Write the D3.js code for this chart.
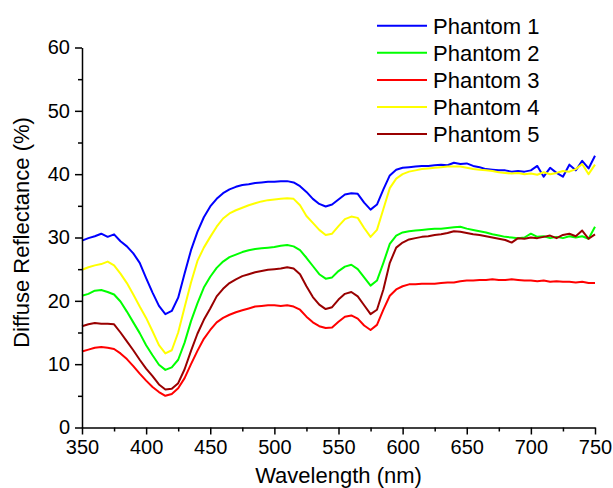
<!DOCTYPE html>
<html>
<head>
<meta charset="utf-8">
<script src="https://cdn.jsdelivr.net/npm/d3@7"></script>
<style>
  html, body { margin: 0; padding: 0; background: #fff; }
  svg { display: block; font-family: "Liberation Sans", Arial, sans-serif; }
</style>
</head>
<body>
<svg id="chart" width="613" height="488"></svg>
<script>
// Wavelength grid (nm), 5 nm steps
const wavelengths = d3.range(350, 751, 5);

// Diffuse reflectance (%) for each tissue phantom
const phantom1 = [29.5,29.9,30.2,30.6,30.1,30.5,29.4,28.6,27.5,26.0,23.6,21.3,19.2,17.9,18.4,20.5,24.3,28.0,30.9,33.2,34.9,36.1,37.0,37.6,38.0,38.3,38.4,38.6,38.7,38.8,38.8,38.9,38.9,38.7,38.1,37.2,36.1,35.3,34.9,35.2,36.0,36.8,37.0,36.9,35.5,34.4,35.2,37.6,39.8,40.7,41.0,41.1,41.2,41.3,41.3,41.4,41.5,41.4,41.8,41.6,41.7,41.3,41.1,40.8,40.7,40.6,40.6,40.4,40.5,40.4,40.6,41.3,39.6,41.0,40.2,39.6,41.5,40.6,42.1,40.9,42.9];
const phantom2 = [20.8,21.1,21.6,21.7,21.4,21.0,19.9,18.3,16.6,14.9,13.0,11.4,9.9,9.1,9.5,10.7,13.4,16.8,19.6,22.1,23.8,25.2,26.2,26.9,27.3,27.7,28.0,28.2,28.3,28.4,28.5,28.7,28.8,28.6,28.0,26.8,25.5,24.2,23.5,23.7,24.7,25.4,25.7,25.0,23.7,22.4,23.2,26.0,29.0,30.3,30.8,31.0,31.1,31.2,31.3,31.4,31.4,31.5,31.6,31.7,31.4,31.2,31.0,30.8,30.5,30.3,30.1,30.0,29.9,30.0,30.6,30.1,30.2,29.9,30.1,29.9,30.2,30.0,30.2,29.8,31.7];
const phantom3 = [12.0,12.3,12.6,12.7,12.6,12.4,11.7,10.8,9.7,8.5,7.4,6.4,5.6,5.0,5.3,6.2,7.8,10.0,12.1,14.0,15.4,16.6,17.3,17.8,18.2,18.5,18.8,19.1,19.2,19.3,19.3,19.2,19.3,19.1,18.6,17.5,16.6,16.0,15.7,15.8,16.7,17.5,17.7,17.2,16.1,15.4,16.2,18.6,20.8,21.8,22.3,22.6,22.6,22.7,22.7,22.7,22.8,22.9,22.9,23.1,23.2,23.2,23.3,23.3,23.4,23.3,23.3,23.4,23.3,23.2,23.2,23.1,23.2,23.0,23.1,23.0,23.0,22.9,23.0,22.8,22.8];
const phantom4 = [24.9,25.3,25.6,25.8,26.2,25.6,24.3,22.8,21.0,19.1,17.3,15.2,13.0,11.7,12.2,15.0,19.0,22.9,26.3,28.4,30.1,31.7,33.0,33.8,34.3,34.7,35.1,35.4,35.7,35.9,36.0,36.1,36.2,36.1,35.1,33.4,32.3,31.2,30.4,30.6,31.8,32.9,33.3,33.1,31.5,30.1,31.2,34.5,37.8,39.3,40.0,40.4,40.6,40.8,40.9,41.0,41.1,41.2,41.2,41.2,41.0,40.8,40.7,40.6,40.5,40.3,40.2,40.1,40.2,40.0,40.1,39.9,40.3,40.0,40.2,40.5,40.4,40.8,41.6,40.0,41.5];
const phantom5 = [16.0,16.3,16.5,16.4,16.4,16.3,15.0,13.6,12.2,10.7,9.3,8.1,6.8,6.0,6.1,7.0,9.2,12.1,14.8,17.0,18.8,20.7,21.9,22.8,23.4,23.9,24.2,24.5,24.7,24.9,25.0,25.1,25.3,25.1,24.2,22.3,20.6,19.4,18.7,19.0,20.2,21.1,21.4,20.7,19.3,17.9,18.6,21.8,26.0,28.4,29.2,29.7,29.9,30.1,30.2,30.4,30.5,30.7,31.0,30.9,30.7,30.5,30.4,30.2,30.0,29.8,29.6,29.2,29.9,29.8,30.0,29.9,30.1,30.3,29.9,30.4,30.6,30.2,31.1,29.8,30.5];

const seriesNames = ["Phantom 1", "Phantom 2", "Phantom 3", "Phantom 4", "Phantom 5"];
const seriesValues = [phantom1, phantom2, phantom3, phantom4, phantom5];
const seriesColors = ["#0000ff", "#00ff00", "#ff0000", "#ffff00", "#990000"];

const xTicks = [350, 400, 450, 500, 550, 600, 650, 700, 750];
const yTicks = [0, 10, 20, 30, 40, 50, 60];

const svg = d3.select("#chart");
const margin = { top: 47.5, right: 18, bottom: 60.5, left: 82 };
const width = 613 - margin.left - margin.right;
const height = 488 - margin.top - margin.bottom;

const x = d3.scaleLinear().domain([350, 750]).range([margin.left, margin.left + width]);
const y = d3.scaleLinear().domain([0, 60]).range([margin.top + height, margin.top]);

// Spectra
const line = d3.line()
  .x((d, i) => x(wavelengths[i]))
  .y(d => y(d));

svg.append("g").selectAll("path")
  .data(seriesValues)
  .join("path")
  .attr("fill", "none")
  .attr("stroke", (d, i) => seriesColors[i])
  .attr("stroke-width", 2)
  .attr("stroke-linejoin", "round")
  .attr("d", line);

// Minor ticks first, then the labelled major axes on top
const minorX = d3.range(375, 750, 50);
const minorY = d3.range(5, 60, 10);

svg.append("g")
  .attr("transform", `translate(0,${y(0)})`)
  .call(d3.axisBottom(x).tickValues(minorX).tickSize(4).tickFormat(""))
  .call(g => g.select(".domain").remove());

svg.append("g")
  .attr("transform", `translate(${x(350)},0)`)
  .call(d3.axisLeft(y).tickValues(minorY).tickSize(4).tickFormat(""))
  .call(g => g.select(".domain").remove());

const xAxis = svg.append("g")
  .attr("transform", `translate(0,${y(0)})`)
  .call(d3.axisBottom(x).tickValues(xTicks).tickSize(7).tickSizeOuter(0).tickPadding(5).tickFormat(d3.format("d")));

const yAxis = svg.append("g")
  .attr("transform", `translate(${x(350)},0)`)
  .call(d3.axisLeft(y).tickValues(yTicks).tickSize(7).tickSizeOuter(0).tickPadding(5).tickFormat(d3.format("d")));

[xAxis, yAxis].forEach(g => {
  g.selectAll("path, line").attr("stroke", "#000").attr("stroke-width", 1.5);
  g.selectAll("text").attr("font-size", 20).attr("fill", "#000")
    .attr("font-family", "'Liberation Sans', Arial, sans-serif");
});
svg.selectAll("g line").attr("stroke", "#000").attr("stroke-width", 1.5);

// Axis titles
svg.append("text")
  .attr("x", x(550))
  .attr("y", 482.5)
  .attr("text-anchor", "middle")
  .attr("font-size", 22)
  .text("Wavelength (nm)");

svg.append("text")
  .attr("transform", `translate(29,${y(30) - 5}) rotate(-90)`)
  .attr("text-anchor", "middle")
  .attr("font-size", 22)
  .text("Diffuse Reflectance (%)");

// Legend
const legend = svg.append("g").attr("transform", "translate(377,25.7)");
const rows = legend.selectAll("g")
  .data(seriesNames)
  .join("g")
  .attr("transform", (d, i) => `translate(0,${i * 27.1})`);
rows.append("line")
  .attr("x1", 0).attr("x2", 50)
  .attr("stroke", (d, i) => seriesColors[i])
  .attr("stroke-width", 2);
rows.append("text")
  .attr("x", 56)
  .attr("y", 8)
  .attr("font-size", 22)
  .text(d => d);
</script>
</body>
</html>
